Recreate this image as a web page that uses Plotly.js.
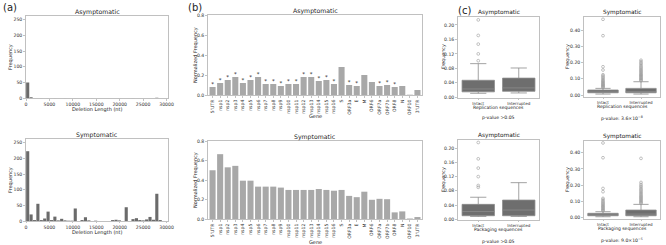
<!DOCTYPE html>
<html>
<head>
<meta charset="utf-8">
<script src="https://cdn.plot.ly/plotly-3.0.1.min.js"></script>
<style>html,body{margin:0;padding:0;background:#fff;}#chart{width:666px;height:245px;}</style>
</head>
<body>
<div id="chart"></div>
<script>
// ---------- Data ----------
// (a) deletion length histograms (bin width 725 nt, 40 bins)
const binWidth = 725;
const asymDelCounts = [50,3,0,0,1,0,1,0,1,0, 0,1,0,0,1,0,0,0,0,1, 0,0,0,0,0,0,0,1,0,0, 0,1,0,0,0,0,0,0,2,0];
const symDelCounts  = [223,21,3,55,3,8,30,3,14,2, 7,2,1,1,40,0,3,12,2,0, 1,0,0,0,0,3,4,2,0,44, 0,6,9,3,2,5,13,4,87,3];
const delTicks = [0,5000,10000,15000,20000,25000,30000];
const delTickText = ["0","5000","10000","15000","20000","25000","30000"];

// (b) normalized frequency per gene
const genes = ["5'UTR","nsp1","nsp2","nsp3","nsp4","nsp5","nsp6","nsp7","nsp8","nsp9","nsp10","nsp11","nsp12","nsp13","nsp14","nsp15","nsp16","S","ORF3a","E","M","ORF6","ORF7a","ORF7b","ORF8","N","ORF10","3'UTR"];
const asymGeneFreq = [0.08,0.12,0.15,0.18,0.12,0.15,0.18,0.11,0.11,0.09,0.11,0.11,0.18,0.18,0.14,0.15,0.11,0.28,0.10,0.09,0.20,0.13,0.09,0.10,0.08,0.09,0.003,0.05];
const asymStars = ["*","*","*","*","*","*","*","*","*","*","*","*","*","*","*","*","*","","*","*","","","*","*","*","","",""];
const symGeneFreq = [0.50,0.665,0.53,0.545,0.393,0.393,0.332,0.332,0.332,0.322,0.298,0.298,0.298,0.298,0.308,0.298,0.29,0.298,0.237,0.224,0.28,0.197,0.207,0.203,0.068,0.078,0.005,0.02];

// (c) box plots
const boxGroups = ["Intact","Interrupted"];
// replication sequences, asymptomatic
const repAsymQ1 = [0.015,0.0165], repAsymMed = [0.023,0.026], repAsymQ3 = [0.047,0.053], repAsymLo = [0.011,0.012], repAsymHi = [0.093,0.081];
const repAsymOutIntact = [0.101,0.120,0.147,0.171,0.214];
const repAsymOutInter = [];
// replication sequences, symptomatic
const repSymQ1 = [0.014,0.014], repSymMed = [0.020,0.022], repSymQ3 = [0.031,0.041], repSymLo = [0.006,0.006], repSymHi = [0.041,0.082];
const repSymOutIntact = [0.046,0.050,0.054,0.058,0.062,0.066,0.070,0.075,0.080,0.085,0.090,0.096,0.103,0.110,0.118,0.125,0.154,0.174,0.365,0.466];
const repSymOutInter = [0.088,0.093,0.098,0.103,0.108,0.113,0.118,0.123,0.128,0.134,0.140,0.146,0.152,0.158,0.165,0.172,0.180,0.188,0.196,0.205,0.214];
// packaging sequences, asymptomatic
const pkgAsymQ1 = [0.010,0.010], pkgAsymMed = [0.022,0.026], pkgAsymQ3 = [0.042,0.054], pkgAsymLo = [0.008,0.008], pkgAsymHi = [0.062,0.103];
const pkgAsymOutIntact = [0.090,0.095,0.120,0.144,0.170,0.216];
const pkgAsymOutInter = [];
// packaging sequences, symptomatic
const pkgSymQ1 = [0.012,0.012], pkgSymMed = [0.018,0.022], pkgSymQ3 = [0.027,0.047], pkgSymLo = [0.006,0.006], pkgSymHi = [0.037,0.082];
const pkgSymOutIntact = [0.042,0.047,0.052,0.057,0.062,0.067,0.072,0.078,0.084,0.090,0.097,0.104,0.112,0.119,0.160,0.180,0.369,0.460];
const pkgSymOutInter = [0.088,0.093,0.098,0.104,0.110,0.116,0.122,0.128,0.134,0.141,0.148,0.155,0.162,0.170,0.178,0.186,0.195,0.205,0.217,0.365];

// ---------- Styling ----------
const FONT = "DejaVu Sans, sans-serif";
const W = 666, H = 245;
const px = v => v / W;
const py = v => 1 - v / H;
const tickFont = {family: FONT, size: 4.6, color: "#333"};
const frame = {showline: true, mirror: true, linecolor: "#b0b0b0", linewidth: 0.8, ticks: "outside", ticklen: 2, tickcolor: "#999", tickwidth: 0.6, showgrid: false, zeroline: false, tickfont: tickFont, fixedrange: true};

const traces = [];
const binCenters = asymDelCounts.map((_, i) => i * binWidth + binWidth / 2);
traces.push({type: "bar", x: binCenters, y: asymDelCounts, width: binWidth * 0.92, marker: {color: "#6b6b6b"}, xaxis: "x", yaxis: "y", hoverinfo: "skip"});
traces.push({type: "bar", x: binCenters, y: symDelCounts, width: binWidth * 0.92, marker: {color: "#6b6b6b"}, xaxis: "x2", yaxis: "y2", hoverinfo: "skip"});
traces.push({type: "bar", x: genes, y: asymGeneFreq, marker: {color: "#a8a8a8"}, xaxis: "x3", yaxis: "y3", hoverinfo: "skip"});
// significance stars only for marked genes
const starIdx = asymStars.map((s, i) => s ? i : -1).filter(i => i >= 0);
traces.push({type: "scatter", mode: "text", x: starIdx.map(i => genes[i]), y: starIdx.map(i => asymGeneFreq[i]),
  text: starIdx.map(i => asymStars[i]), textposition: "top center", textfont: {family: FONT, size: 5.5, color: "#222"},
  cliponaxis: false, xaxis: "x3", yaxis: "y3", hoverinfo: "skip"});
traces.push({type: "bar", x: genes, y: symGeneFreq, marker: {color: "#a8a8a8"}, xaxis: "x4", yaxis: "y4", hoverinfo: "skip"});

function addBox(ax, q1, med, q3, lo, hi, outIntact, outInter) {
  traces.push({type: "box", x: boxGroups, q1: q1, median: med, q3: q3, lowerfence: lo, upperfence: hi,
    width: 0.8, whiskerwidth: 0.5, boxpoints: false, fillcolor: "#6e6e6e", line: {color: "#8c8c8c", width: 0.8},
    xaxis: "x" + ax, yaxis: "y" + ax, hoverinfo: "skip"});
  const ox = outIntact.map(() => boxGroups[0]).concat(outInter.map(() => boxGroups[1]));
  traces.push({type: "scatter", mode: "markers", x: ox, y: outIntact.concat(outInter),
    marker: {symbol: "circle-open", size: 2.8, color: "#9a9a9a", line: {width: 0.6, color: "#9a9a9a"}},
    xaxis: "x" + ax, yaxis: "y" + ax, hoverinfo: "skip", cliponaxis: false});
}
addBox(5, repAsymQ1, repAsymMed, repAsymQ3, repAsymLo, repAsymHi, repAsymOutIntact, repAsymOutInter);
addBox(6, repSymQ1, repSymMed, repSymQ3, repSymLo, repSymHi, repSymOutIntact, repSymOutInter);
addBox(7, pkgAsymQ1, pkgAsymMed, pkgAsymQ3, pkgAsymLo, pkgAsymHi, pkgAsymOutIntact, pkgAsymOutInter);
addBox(8, pkgSymQ1, pkgSymMed, pkgSymQ3, pkgSymLo, pkgSymHi, pkgSymOutIntact, pkgSymOutInter);

const boxX = {type: "category", range: [-0.5, 1.5], ticks: "outside", ticklen: 1, tickfont: {family: FONT, size: 4.1, color: "#333"}};
const histX = {ticklen: 1.5};
const layout = {
  width: W, height: H, margin: {l: 0, r: 0, t: 0, b: 0}, showlegend: false,
  paper_bgcolor: "#fff", plot_bgcolor: "#fff", bargap: 0.2,
  font: {family: FONT, size: 5, color: "#222"},
  // (a)
  xaxis:  Object.assign({}, frame, histX, {domain: [px(26), px(168)], range: [0, 30300], tickvals: delTicks, ticktext: delTickText, anchor: "y"}),
  yaxis:  Object.assign({}, frame, {domain: [py(98.3), py(15.7)], range: [0, 262], tickvals: [0,50,100,150,200,250], anchor: "x"}),
  xaxis2: Object.assign({}, frame, histX, {domain: [px(26), px(168)], range: [0, 30300], tickvals: delTicks, ticktext: delTickText, anchor: "y2"}),
  yaxis2: Object.assign({}, frame, {domain: [py(221), py(139)], range: [0, 262], tickvals: [0,50,100,150,200,250], anchor: "x2"}),
  // (b)
  xaxis3: Object.assign({}, frame, {domain: [px(208), px(422)], range: [-0.6, 27.6], type: "category", tickangle: -90, anchor: "y3"}),
  yaxis3: Object.assign({}, frame, {domain: [py(95), py(15)], range: [0, 0.8], tickvals: [0,0.2,0.4,0.6,0.8], tickformat: ".1f", anchor: "x3"}),
  xaxis4: Object.assign({}, frame, {domain: [px(208), px(422)], range: [-0.6, 27.6], type: "category", tickangle: -90, anchor: "y4"}),
  yaxis4: Object.assign({}, frame, {domain: [py(219), py(141)], range: [0, 0.8], tickvals: [0,0.2,0.4,0.6,0.8], tickformat: ".1f", anchor: "x4"}),
  // (c)
  xaxis5: Object.assign({}, frame, boxX, {domain: [px(458), px(539)], anchor: "y5"}),
  yaxis5: Object.assign({}, frame, {domain: [py(98), py(17)], range: [-0.002, 0.222], tickvals: [0,0.04,0.08,0.12,0.16,0.2], tickformat: ".2f", anchor: "x5"}),
  xaxis6: Object.assign({}, frame, boxX, {domain: [px(584), px(660)], anchor: "y6"}),
  yaxis6: Object.assign({}, frame, {domain: [py(97), py(17)], range: [-0.012, 0.48], tickvals: [0,0.1,0.2,0.3,0.4], tickformat: ".2f", anchor: "x6"}),
  xaxis7: Object.assign({}, frame, boxX, {domain: [px(458), px(539)], anchor: "y7"}),
  yaxis7: Object.assign({}, frame, {domain: [py(220), py(140)], range: [-0.002, 0.223], tickvals: [0,0.04,0.08,0.12,0.16,0.2], tickformat: ".2f", anchor: "x7"}),
  xaxis8: Object.assign({}, frame, boxX, {domain: [px(584), px(660)], anchor: "y8"}),
  yaxis8: Object.assign({}, frame, {domain: [py(219), py(141)], range: [-0.008, 0.472], tickvals: [0,0.1,0.2,0.3,0.4], tickformat: ".2f", anchor: "x8"}),
  annotations: []
};

function txt(x, y, text, size, opts) {
  layout.annotations.push(Object.assign({xref: "paper", yref: "paper", x: px(x), y: py(y), text: text, showarrow: false,
    xanchor: "center", yanchor: "middle", font: {family: FONT, size: size, color: "#222"}}, opts || {}));
}
// panel labels
txt(1, 7, "(a)", 10, {xanchor: "left"});
txt(186, 7, "(b)", 10, {xanchor: "left"});
txt(456, 10, "(c)", 10, {xanchor: "left"});
// (a) titles
txt(97, 11.5, "Asymptomatic", 6.2);
txt(97, 135, "Symptomatic", 6.2);
txt(97, 109.5, "Deletion Length (nt)", 5);
txt(97, 232.5, "Deletion Length (nt)", 5);
txt(10, 57, "Frequency", 5, {textangle: -90});
txt(10, 180, "Frequency", 5, {textangle: -90});
// (b) titles
txt(315, 11, "Asymptomatic", 6.2);
txt(315, 137, "Symptomatic", 6.2);
txt(315, 116, "Gene", 5);
txt(315, 241.5, "Gene", 5);
txt(195, 55, "Normalized Frequency", 5, {textangle: -90});
txt(195, 180, "Normalized Frequency", 5, {textangle: -90});
// (c) titles
txt(498.5, 12.5, "Asymptomatic", 5.8);
txt(622, 12.5, "Symptomatic", 5.8);
txt(498.5, 135.5, "Asymptomatic", 5.8);
txt(622, 136.5, "Symptomatic", 5.8);
txt(498.5, 107, "Replication sequences", 4.5);
txt(622, 106, "Replication sequences", 4.5);
txt(498.5, 229.5, "Packaging sequences", 4.5);
txt(622, 228.5, "Packaging sequences", 4.5);
txt(443, 57, "Frequency", 4.8, {textangle: -90});
txt(567, 57, "Frequency", 4.8, {textangle: -90});
txt(443, 180, "Frequency", 4.8, {textangle: -90});
txt(567, 180, "Frequency", 4.8, {textangle: -90});
txt(498.5, 117.5, "p-value >0.05", 4.6);
txt(622, 117.5, "p-value: 3.6×10<sup>−8</sup>", 4.6);
txt(498.5, 241, "p-value >0.05", 4.6);
txt(622, 239.5, "p-value: 9.0×10<sup>−5</sup>", 4.6);

Plotly.newPlot("chart", traces, layout, {staticPlot: true, displayModeBar: false});
</script>
</body>
</html>
